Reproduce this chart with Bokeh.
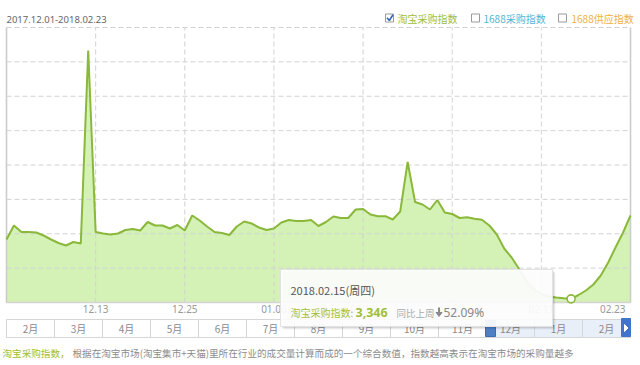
from bokeh.plotting import figure
from bokeh.models import Range1d
from bokeh.core.properties import value
from bokeh.embed import file_html
from bokeh.resources import INLINE

# ---------------- data ----------------
period_label = "2017.12.01-2018.02.23"
series_names = ["淘宝采购指数", "1688采购指数", "1688供应指数"]
series_colors = ["#9fbe35", "#4fb6d6", "#efb043"]

# 淘宝采购指数, one value per day from 12.01 to 02.23 (85 days)
index_values = [
    10586, 12294, 11501, 11501, 11440, 11074, 10586, 10159, 9854, 10281,
    10098, 33644, 11501, 11318, 11196, 11318, 11745, 11867, 11684, 12721,
    12294, 12294, 11928, 12355, 11684, 13514, 12904, 12172, 11501, 11379,
    11135, 12172, 12782, 12538, 12050, 11745, 11928, 12660, 12965, 12843,
    12843, 12965, 12233, 12721, 13392, 13209, 13209, 14246, 14307, 13636,
    13429, 13429, 13026, 14002, 20041, 15161, 14856, 14246, 15405, 13880,
    13697, 13209, 13307, 13111, 12989, 12294, 11196, 9488, 8390, 6984,
    5462, 4486, 3937, 3632, 3510, 3412, 3346, 3815, 4364, 5096,
    6194, 7780, 9647, 11440, 13514,
]
days = list(range(len(index_values)))

tick_days = [12, 24, 36, 48, 60, 72, 84]
tick_labels = ["12.13", "12.25", "01.06", "01.18", "01.30", "02.11", "02.23"]

month_cells = ["2月", "3月", "4月", "5月", "6月", "7月", "8月", "9月",
               "10月", "11月", "12月", "1月", "2月"]
selected_from = 10  # 12月 onward is the selected window

hover_day = 76
hover_label = "2018.02.15(周四)"
compare_day = 69  # one week earlier

y_min, y_max, n_grid = 2900, 36450, 8

footnote_head = "淘宝采购指数，"
footnote_body = "根据在淘宝市场(淘宝集市+天猫)里所在行业的成交量计算而成的一个综合数值，指数越高表示在淘宝市场的采购量越多"

# ---------------- layout constants ----------------
W, H = 640, 365
L, R, T, B = 6, 630, 27, 302
CJK = "Noto Sans CJK SC"
LAT = "Noto Sans"
LINE_C = "#8ab83a"

p = figure(width=W, height=H, x_range=Range1d(0, W), y_range=Range1d(H, 0),
           output_backend="svg", toolbar_location=None, min_border=0,
           x_axis_location=None, y_axis_location=None,
           outline_line_color=None, background_fill_color="white",
           border_fill_color="white")
p.grid.visible = False

px_per_day = (R - L) / (days[-1] - days[0])
per_px = (y_max - y_min) / (B - T)
p.extra_x_ranges = {"day": Range1d(days[0] - L / px_per_day,
                                   days[-1] + (W - R) / px_per_day)}
p.extra_y_ranges = {"idx": Range1d(y_min - (H - B) * per_px,
                                   y_max + T * per_px)}
D = dict(x_range_name="day", y_range_name="idx")

# area fill
p.varea(x=days, y1=[y_min] * len(days), y2=index_values,
        fill_color="#c2ec97", fill_alpha=0.7, **D)

# grid
gy = [y_min + k * (y_max - y_min) / n_grid for k in range(1, n_grid + 1)]
p.segment(x0=[days[0]] * len(gy), x1=[days[-1]] * len(gy), y0=gy, y1=gy,
          line_color="#d2d2d2", line_dash="5 3", line_width=1, **D)
vx = tick_days[:-1]
p.segment(x0=vx, x1=vx, y0=[y_min] * len(vx), y1=[y_max] * len(vx),
          line_color="#d2d2d2", line_dash="5 3", line_width=1, **D)

# frame borders
p.segment(x0=[days[0], days[-1]], x1=[days[0], days[-1]],
          y0=[y_min, y_min], y1=[y_max, y_max],
          line_color="#cccccc", line_width=1.6, **D)
p.segment(x0=[days[0]], x1=[days[-1]], y0=[y_min], y1=[y_min],
          line_color="#d4d4d4", line_width=1.6, **D)

# series line
p.line(days, index_values, line_color=LINE_C, line_width=2, **D)

# x tick labels
p.text(x=tick_days[:-1], y=[y_min] * (len(tick_days) - 1), text=tick_labels[:-1],
       text_align="center", text_baseline="top", y_offset=2,
       text_font=value(LAT), text_font_size="10px", text_color="#999999", **D)
p.text(x=[tick_days[-1]], y=[y_min], text=[tick_labels[-1]],
       text_align="right", text_baseline="top", y_offset=2, x_offset=-5,
       text_font=value(LAT), text_font_size="10px", text_color="#999999", **D)


def ptext(x, y, s, size, color, font=CJK, align="left", style="normal"):
    p.text(x=[x], y=[y], text=[s], text_font=value(font),
           text_font_size=f"{size}px", text_color=color, text_align=align,
           text_baseline="middle", text_font_style=style)


# title + legend
ptext(L, 19, period_label, 9.5, "#666666", font=LAT)
box_x = [385, 471, 558]
text_x = [397, 483, 571]
p.rect(x=[bx + 4 for bx in box_x], y=[17.5] * 3, width=8, height=8,
       fill_color="white", line_color="#9a9a9a", line_width=1)
p.line([386.5, 388.8, 392.5], [17.3, 20, 14.2], line_color="#3567b5", line_width=1.6)
for tx, name, col in zip(text_x, series_names, series_colors):
    ptext(tx, 18, name, 10, col)

# navigator
cw = (R - L) / len(month_cells)
lefts = [L + i * cw for i in range(len(month_cells))]
fills = ["white" if i < selected_from else "#e8eff9" for i in range(len(month_cells))]
p.quad(left=lefts, right=[x + cw for x in lefts], top=[319] * len(lefts),
       bottom=[337] * len(lefts), fill_color=fills, line_color="#d6d6d6", line_width=1)
p.text(x=[x + cw / 2 for x in lefts], y=[328] * len(lefts), text=month_cells,
       text_align="center", text_baseline="middle", text_font=value(CJK),
       text_font_size="10px", text_color="#8a8a8a")
hx = lefts[selected_from]
p.quad(left=[hx - 1], right=[hx + 9], top=[320], bottom=[336],
       fill_color="#4f80c6", line_color="#3c6db3")
p.quad(left=[R - 9], right=[R], top=[318], bottom=[336],
       fill_color="#3f74c8", line_color="#3f74c8")
p.patch([R - 6, R - 6, R - 2.5], [324, 331, 327.5], fill_color="white", line_color="white")

# hovered point
p.scatter(x=[hover_day], y=[index_values[hover_day]], size=8, marker="circle",
          fill_color="white", line_color=LINE_C, line_width=1.6, **D)

# tooltip
for k, a in [(3, 0.05), (2, 0.07), (1, 0.09)]:
    p.quad(left=[280 + k], right=[552 + k], top=[269 + k], bottom=[326 + k],
           fill_color="black", fill_alpha=a, line_color=None)
p.quad(left=[280], right=[552], top=[269], bottom=[326],
       fill_color="white", fill_alpha=0.93, line_color="#e2e2e2", line_width=1)
ptext(290, 289, hover_label, 11, "#555555")
cur = index_values[hover_day]
prev = index_values[compare_day]
pct = (prev - cur) / prev * 100
ptext(290, 312, series_names[0] + ":", 10, "#a3bf3a")
ptext(355, 312, f"{cur:,}", 12.5, "#a3bf3a", font=LAT, style="bold")
ptext(396, 312, "同比上周", 9.5, "#aaaaaa")
# bold down arrow
p.segment(x0=[438.5], x1=[438.5], y0=[307], y1=[312.5], line_color="#8a8a8a", line_width=2)
p.patch([435.5, 441.5, 438.5], [312, 312, 316], fill_color="#8a8a8a", line_color="#8a8a8a")
ptext(443, 312, f"{pct:.2f}%", 12, "#888888", font=LAT)

# footnote
ptext(2, 352, footnote_head, 9.6, "#9dbd2e")
ptext(72, 352, footnote_body, 9.6, "#8c8c8c")

open("out.html", "w").write(file_html(p, INLINE))
